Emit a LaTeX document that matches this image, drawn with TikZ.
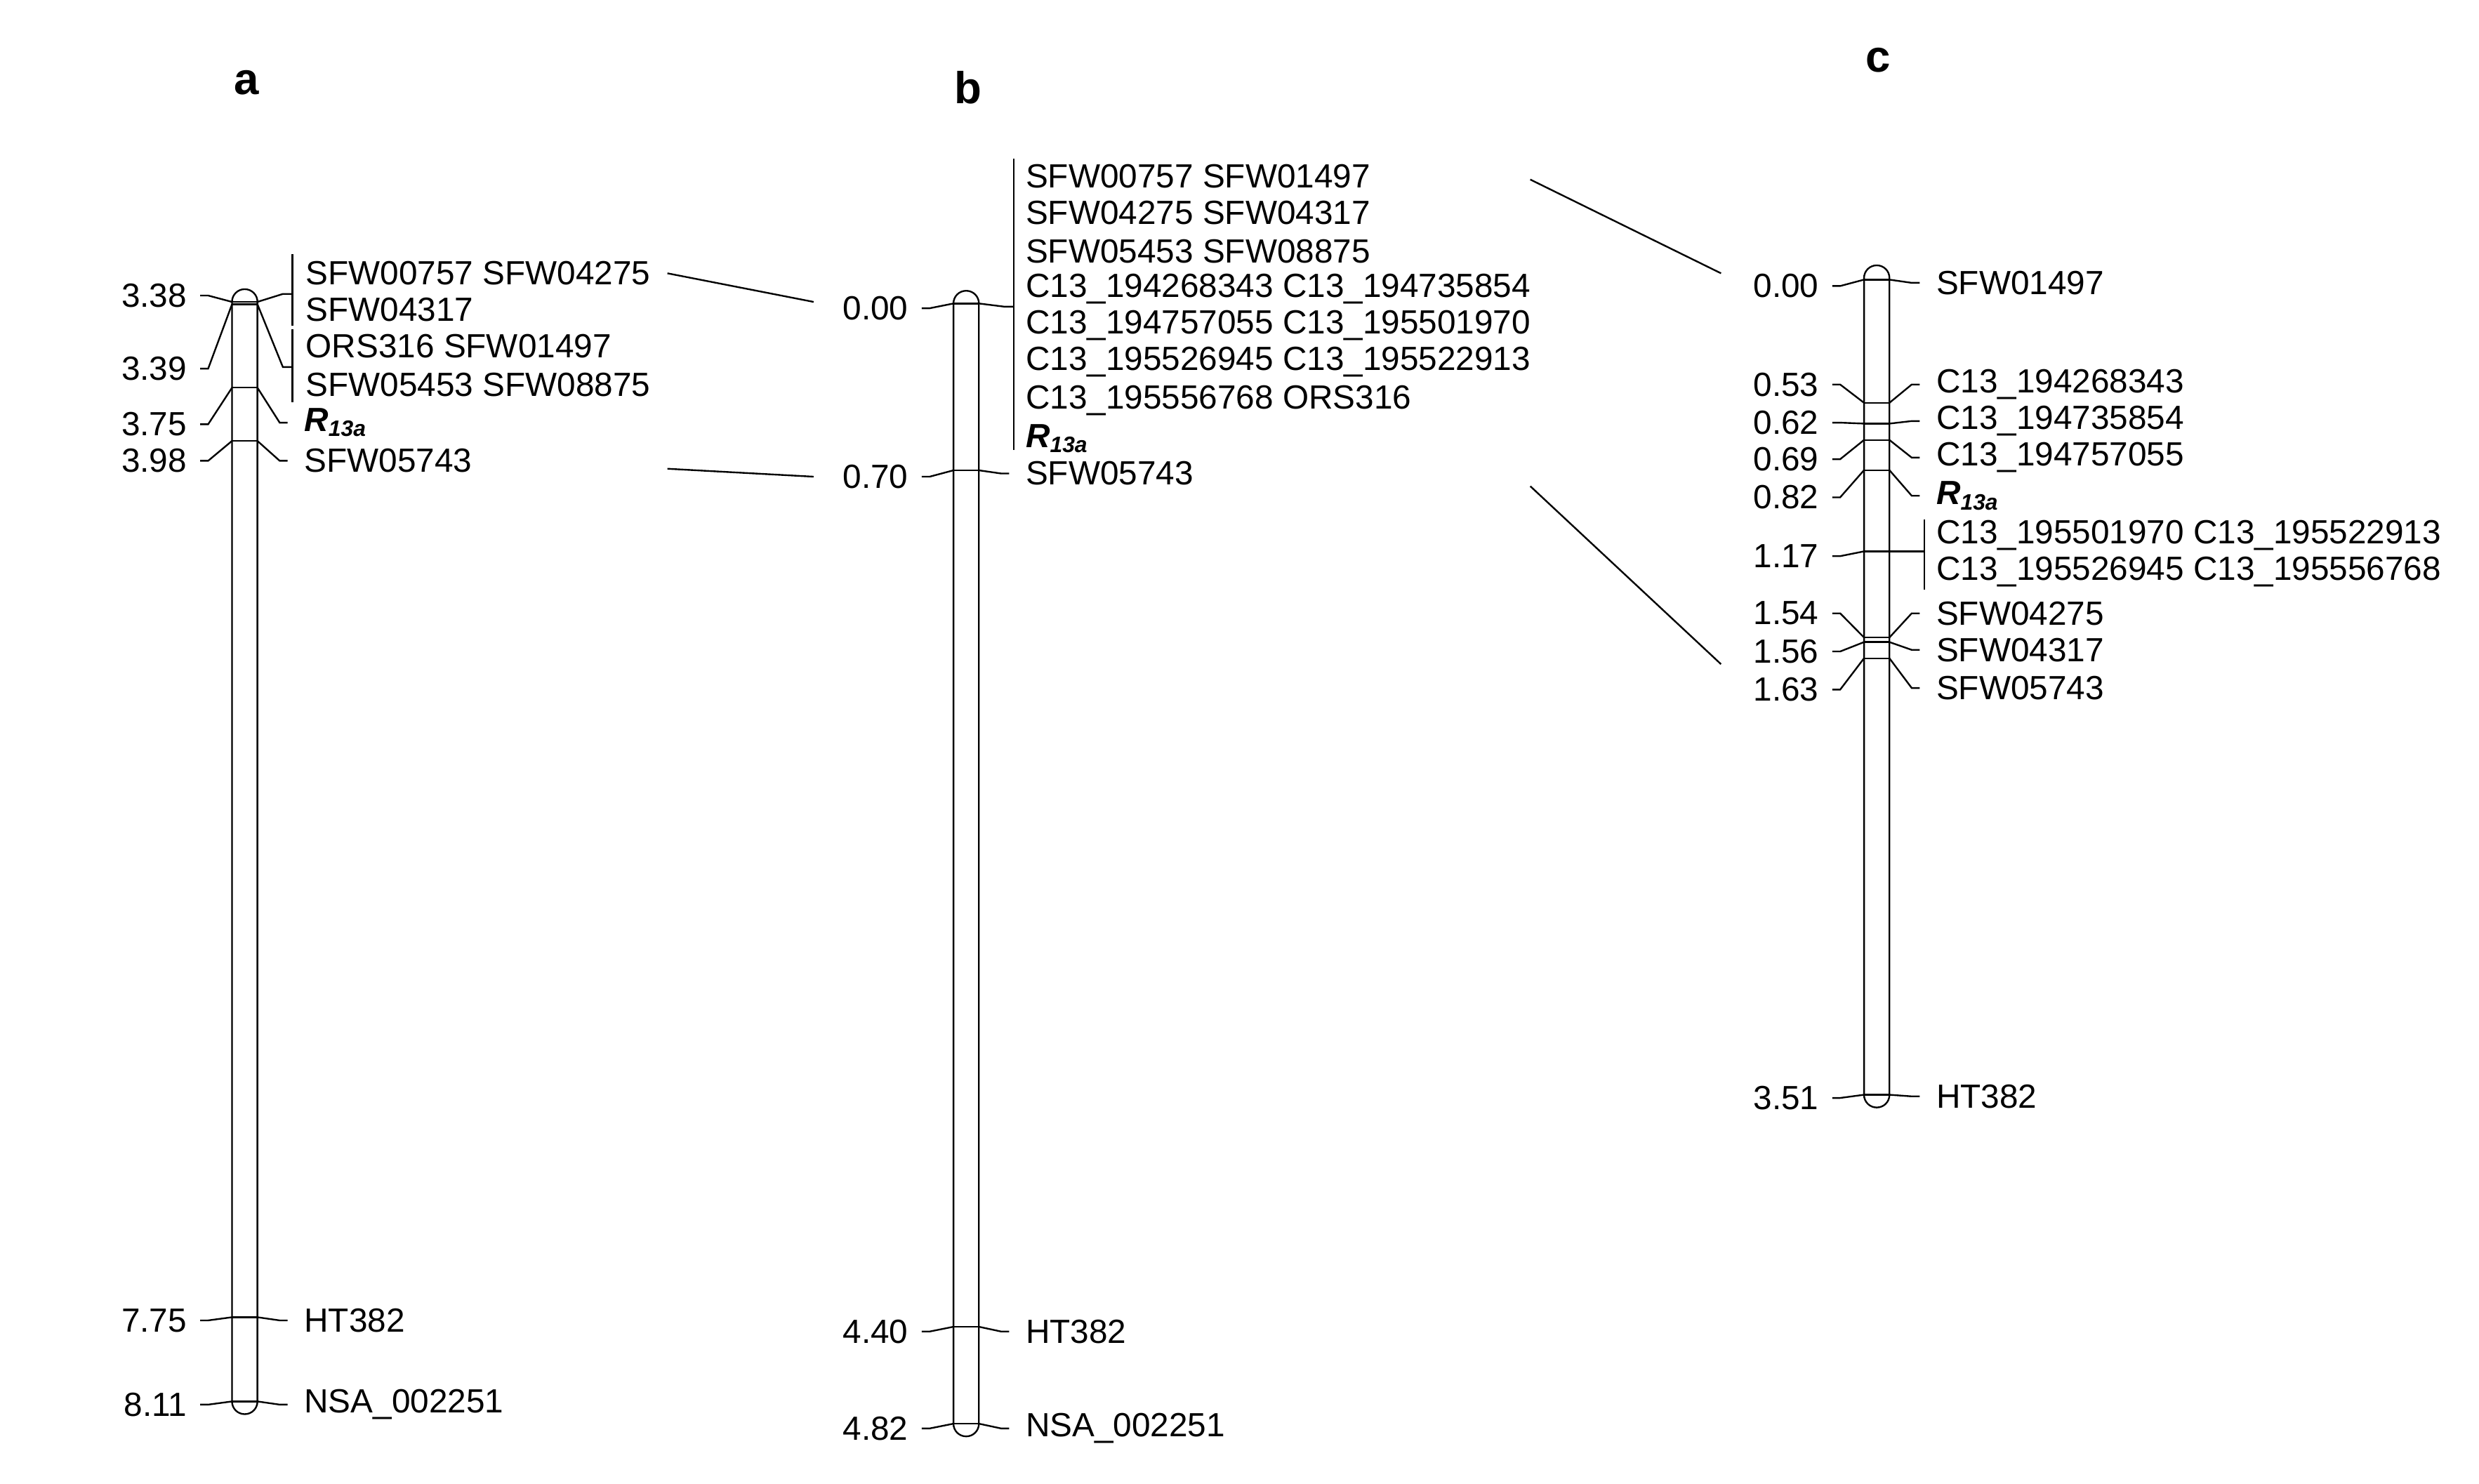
\documentclass[tikz,border=0pt]{standalone}
\usepackage{fontspec}
\setmainfont{Liberation Sans}
\begin{document}
\begin{tikzpicture}[x=0.02cm,y=-0.02cm,line width=0.6pt,
  lab/.style={inner sep=0pt,font=\fontsize{12}{13}\selectfont},
  ttl/.style={inner sep=0pt,font=\fontsize{16}{18}\selectfont\bfseries},
  chrom/.style={rounded corners=0.159cm}]
\useasboundingbox (0,0) rectangle (1560,933.6);
\newcommand{\Mk}[2]{\draw (#1-8,#2)--(#1+8,#2);}
\newcommand{\Lb}[5]{\node[lab,anchor=east] (#5) at (#1-36,#3) {#4};
  \draw (#5.east) ++(8,0) -- ++(5,0) -- (#1-8,#2);}
\newcommand{\Rb}[5]{\node[lab,anchor=west] (#5) at (#1+37,#3) {#4};
  \draw (#5.west) ++(-10,0) -- ++(-5,0) -- (#1+8,#2);}
\newcommand{\Rq}{{\bfseries\itshape R\textsubscript{13a}}}
% titles
\node[ttl] (ta) at (155,52) {a};
\node[ttl] (tb) at (609,55) {b};
\node[ttl] (tc) at (1182,38) {c};
% ---------- chromosome a ----------
\draw[chrom] (146,182) rectangle (162,890);
\foreach \y in {190,191.5,244,277.5,829,882} {\Mk{154}{\y}}
\Lb{154}{190}{186}{3.38}{a1}
\Lb{154}{191.5}{232}{3.39}{a2}
\Lb{154}{244}{267}{3.75}{a3}
\Lb{154}{277.5}{290}{3.98}{a4}
\Lb{154}{829}{831}{7.75}{a5}
\Lb{154}{882}{884}{8.11}{a6}
\node[lab,anchor=west] (ag1) at (192,172) {SFW00757 SFW04275};
\node[lab,anchor=west] (ag2) at (192,195) {SFW04317};
\node[lab,anchor=west] (ag3) at (192,218) {ORS316 SFW01497};
\node[lab,anchor=west] (ag4) at (192,242) {SFW05453 SFW08875};
\draw (184,160) -- (184,205);
\draw (184,207) -- (184,253);
\draw (162,190) -- (178,185) -- (184,185);
\draw (162,191.5) -- (178,231) -- (184,231);
\Rb{154}{244}{266}{\Rq}{ar}
\Rb{154}{277.5}{290}{SFW05743}{as}
\Rb{154}{829}{831}{HT382}{ah}
\Rb{154}{882}{884}{NSA\_002251}{an}
% ---------- chromosome b ----------
\draw[chrom] (600,183) rectangle (616,904);
\foreach \y in {191,296,835,896} {\Mk{608}{\y}}
\Lb{608}{191}{194}{0.00}{b1}
\Lb{608}{296}{300}{0.70}{b2}
\Lb{608}{835}{838}{4.40}{b3}
\Lb{608}{896}{899}{4.82}{b4}
\draw (638,100) -- (638,283);
\draw (616,191) -- (632,193) -- (638,193);
\node[lab,anchor=west] (bg1) at (645,111) {SFW00757 SFW01497};
\node[lab,anchor=west] (bg2) at (645,134) {SFW04275 SFW04317};
\node[lab,anchor=west] (bg3) at (645,158) {SFW05453 SFW08875};
\node[lab,anchor=west] (bg4) at (645,182) {C13\_194268343 C13\_194735854};
\node[lab,anchor=west] (bg5) at (645,205) {C13\_194757055 C13\_195501970};
\node[lab,anchor=west] (bg6) at (645,228) {C13\_195526945 C13\_195522913};
\node[lab,anchor=west] (bg7) at (645,252) {C13\_195556768 ORS316};
\node[lab,anchor=west] (br) at (645,276) {\Rq};
\Rb{608}{296}{298}{SFW05743}{bs}
\Rb{608}{835}{838}{HT382}{bh}
\Rb{608}{896}{899}{NSA\_002251}{bn}
% ---------- chromosome c ----------
\draw[chrom] (1173,167) rectangle (1189,697);
\foreach \y in {176,253.5,266.6,276.9,295.9,347,401.2,404.1,414.3,689} {\Mk{1181}{\y}}
\Lb{1181}{176}{180}{0.00}{c1}
\Lb{1181}{253.5}{242}{0.53}{c2}
\Lb{1181}{266.6}{266}{0.62}{c3}
\Lb{1181}{276.9}{289}{0.69}{c4}
\Lb{1181}{295.9}{313}{0.82}{c5}
\Lb{1181}{347}{350}{1.17}{c6}
\Lb{1181}{401.2}{386}{1.54}{c7}
\Lb{1181}{404.1}{410}{1.56}{c8}
\Lb{1181}{414.3}{434}{1.63}{c9}
\Lb{1181}{689}{691}{3.51}{c10}
\Rb{1181}{176}{178}{SFW01497}{d1}
\Rb{1181}{253.5}{242}{C13\_194268343}{d2}
\Rb{1181}{266.6}{265}{C13\_194735854}{d3}
\Rb{1181}{276.9}{288}{C13\_194757055}{d4}
\Rb{1181}{295.9}{312}{\Rq}{d5}
\draw (1211,327) -- (1211,371);
\draw (1189,347) -- (1211,347);
\node[lab,anchor=west] (dg1) at (1218,337) {C13\_195501970 C13\_195522913};
\node[lab,anchor=west] (dg2) at (1218,360) {C13\_195526945 C13\_195556768};
\Rb{1181}{401.2}{386}{SFW04275}{d7}
\Rb{1181}{404.1}{409}{SFW04317}{d8}
\Rb{1181}{414.3}{433}{SFW05743}{d9}
\Rb{1181}{689}{690}{HT382}{d10}
% ---------- cross lines ----------
\coordinate (x1) at (420,172); \coordinate (x2) at (512,190);
\coordinate (x3) at (420,295); \coordinate (x4) at (512,300);
\coordinate (x5) at (963,113); \coordinate (x6) at (1083,172);
\coordinate (x7) at (963,306); \coordinate (x8) at (1083,418);
\draw (x1) -- (x2); \draw (x3) -- (x4);
\draw (x5) -- (x6); \draw (x7) -- (x8);
\end{tikzpicture}
\end{document}
